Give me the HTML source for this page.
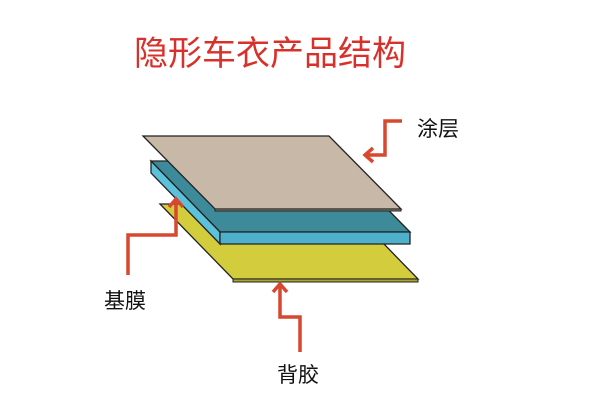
<!DOCTYPE html>
<html><head><meta charset="utf-8"><style>
html,body{margin:0;padding:0;background:#fff;}
body{width:600px;height:400px;position:relative;overflow:hidden;font-family:"Liberation Sans","Noto Sans CJK SC",sans-serif;}
.t{position:absolute;white-space:nowrap;}
</style></head><body>
<div class="t" style="left:134px;top:26px;font-size:34px;color:#d8302a;">隐形车衣产品结构</div>
<svg width="600" height="400" style="position:absolute;left:0;top:0">
<polygon points="160,204 345,204 418,279 233,279" fill="#d3cd3e" stroke="#222" stroke-width="1.3"/>
<polygon points="233,279 418,279 418,282 233,282" fill="#a9a431" stroke="#222" stroke-width="1"/>
<polygon points="151,161 340,161 410,232 220,232" fill="#3d8b9a" stroke="#222" stroke-width="1.3"/>
<polygon points="151,161 220,232 220,244 151,173" fill="#5cc1da" stroke="#222" stroke-width="1.3"/>
<polygon points="220,232 410,232 410,244 220,244" fill="#4fb0cb" stroke="#222" stroke-width="1.3"/>
<polygon points="143,136 329,136 401,209 215,209" fill="#c8b8a7" stroke="#222" stroke-width="1.3"/>
<polygon points="215,209 401,209 401,211 215,211" fill="#8e8070" stroke="#222" stroke-width="1"/>
<g fill="none" stroke="#d8472f" stroke-width="3.5" stroke-linejoin="miter">
<polyline points="402,121 385,121 385,155 367,155"/>
<polyline points="373,148 365,155 373,162"/>
<polyline points="128,275 128,235 176,235 176,200"/>
<polyline points="169,207 176,199 183,207"/>
<polyline points="300,352 300,317 280,317 280,284"/>
<polyline points="273,292 280,284 287,292"/>
</g>
</svg>
<div class="t" style="left:417px;top:113px;font-size:21px;color:#111;">涂层</div>
<div class="t" style="left:104px;top:285px;font-size:21px;color:#111;">基膜</div>
<div class="t" style="left:277px;top:359px;font-size:21px;color:#111;">背胶</div>
</body></html>
